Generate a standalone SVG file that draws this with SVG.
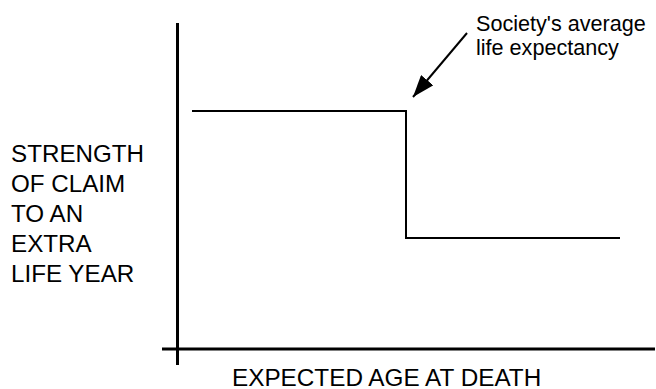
<svg xmlns="http://www.w3.org/2000/svg" width="656" height="389" viewBox="0 0 656 389">
<style>
text{font-family:"Liberation Sans",Arial,sans-serif;fill:#000}
.lbl{font-size:24.2px}
.xl{font-size:24.3px}
.ann{font-size:21.6px}
.axis{stroke:#000;stroke-width:3;fill:none}
.step{stroke:#000;stroke-width:2;fill:none}
</style>
<defs>
<marker id="ah2" viewBox="0 0 22 16" refX="22" refY="8" markerWidth="22" markerHeight="16" orient="auto" markerUnits="userSpaceOnUse">
<path d="M0,0 L22,8 L0,16 Z" fill="#000"/>
</marker>
</defs>
<rect width="656" height="389" fill="#fff"/>
<g id="axes">
<line class="axis" x1="177.5" y1="23" x2="177.5" y2="365"/>
<line class="axis" x1="162" y1="349" x2="655" y2="349"/>
</g>
<g id="connectors">
<polyline class="step" points="192,111 406,111 406,238 620,238"/>
<line x1="467" y1="33" x2="413" y2="97" stroke="#000" stroke-width="2" marker-end="url(#ah2)"/>
</g>
<g id="y-label">
<text class="lbl" x="11" y="162">STRENGTH</text>
<text class="lbl" x="11" y="192">OF CLAIM</text>
<text class="lbl" x="11" y="222">TO AN</text>
<text class="lbl" x="11" y="252">EXTRA</text>
<text class="lbl" x="11" y="282">LIFE YEAR</text>
</g>
<g id="x-label">
<text class="xl" x="232" y="385.5">EXPECTED AGE AT DEATH</text>
</g>
<g id="annotation">
<text class="ann" x="476" y="31">Society's average</text>
<text class="ann" x="476" y="55">life expectancy</text>
</g>
</svg>
